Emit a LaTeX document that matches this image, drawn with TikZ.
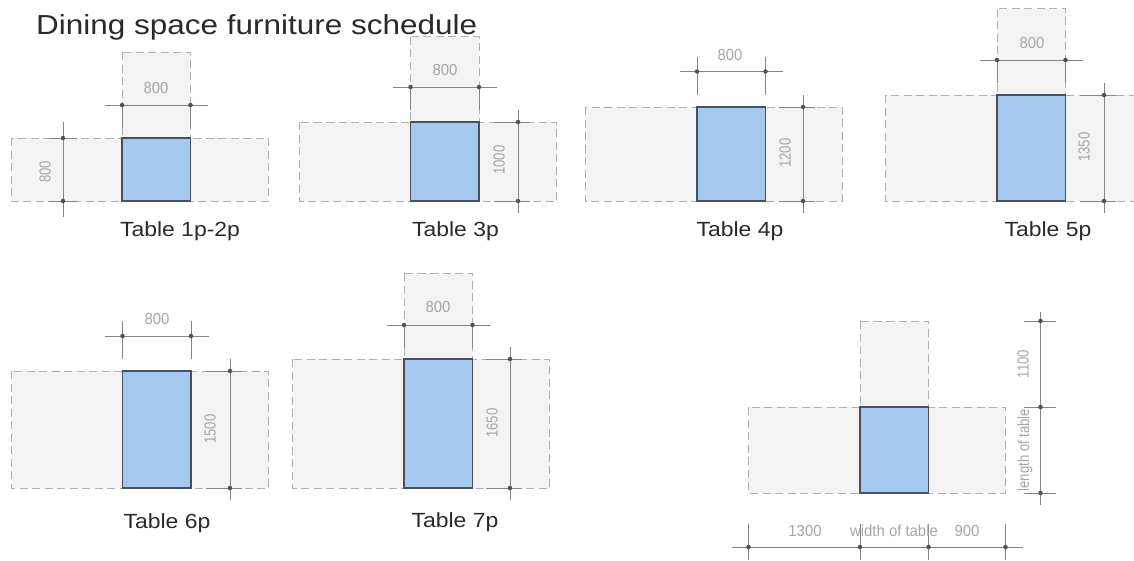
\documentclass[tikz,border=0pt]{standalone}
\usepackage{fontspec}
\setmainfont{Liberation Sans}
\tikzset{
  x=1pt,y=-1pt,
  zone/.style={fill=zonegrey,draw=dashgrey,line width=0.9pt,dash pattern=on 8pt off 4.5pt},
  tabletop/.style={fill=tableblue,draw=tableedge,line width=1.2pt},
  dimline/.style={draw=dimgrey,line width=0.95pt},
  dimdot/.style={circle,fill=dimdark,inner sep=0pt,minimum size=4.5pt},
  dimtext/.style={text=textgrey,font=\fontsize{16}{16}\selectfont,inner sep=0pt,xscale=0.93},
  dimtextv/.style={text=textgrey,font=\fontsize{16}{16}\selectfont,inner sep=0pt,rotate=90,xscale=0.82},
  caption/.style={text=captionblack,font=\fontsize{20.5}{20.5}\selectfont,inner sep=0pt,anchor=base,xscale=1.12},
}
\definecolor{zonegrey}{HTML}{F3F3F3}
\definecolor{dashgrey}{HTML}{B0B0B0}
\definecolor{tableblue}{HTML}{A4C8EE}
\definecolor{tableedge}{HTML}{46515F}
\definecolor{dimgrey}{HTML}{858585}
\definecolor{dimdark}{HTML}{505050}
\definecolor{textgrey}{HTML}{A6A6A6}
\definecolor{captionblack}{HTML}{2A2A2A}
% #1 zone left, #2 table left, #3 back top (empty = no chair), #4 table top, #5 bottom
\newcommand{\zonepair}[5]{%
  \def\tmpchair{#3}%
  \ifx\tmpchair\empty\else
    \draw[zone] (#2,#3) rectangle (#2+68.5,#4);
  \fi
  \draw[zone] (#1,#4) rectangle (#1+257,#5);
  \draw[tabletop] (#2,#4) rectangle (#2+68.5,#5);
}
% horizontal width dimension: #1 table left, #2 y, #3 extent of the ticks above
\newcommand{\hdim}[3]{%
  \draw[dimline] (#1-17.5,#2) -- (#1+86,#2);
  \draw[dimline] (#1,#2-#3) -- (#1,#2+23);
  \draw[dimline] (#1+68.5,#2-#3) -- (#1+68.5,#2+23);
  \node[dimdot] at (#1,#2) {};
  \node[dimdot] at (#1+68.5,#2) {};
}
% vertical length dimension: #1 x, #2 top y, #3 bottom y, #4 overshoot, #5 tick left, #6 tick right
\newcommand{\vdim}[6]{%
  \draw[dimline] (#1,#2-#4) -- (#1,#3+#4);
  \draw[dimline] (#1-#5,#2) -- (#1+#6,#2);
  \draw[dimline] (#1-#5,#3) -- (#1+#6,#3);
  \node[dimdot] at (#1,#2) {};
  \node[dimdot] at (#1,#3) {};
}
\begin{document}
\begin{tikzpicture}
\useasboundingbox[fill=white] (0,0) rectangle (1134,560);

\zonepair{11}{122}{52}{138}{201}
\hdim{122}{105}{0}
\vdim{63}{138}{201}{16}{14}{14}
\node[dimtext] at (156,88) {800};
\node[dimtextv] at (45,172) {800};
\node[caption] at (180,236) {Table 1p-2p};

\zonepair{299.5}{410.5}{36.5}{122}{201}
\hdim{410.5}{87}{0}
\vdim{518}{122}{201}{12}{24}{12}
\node[dimtext] at (445,70) {800};
\node[dimtextv] at (499,160) {1000};
\node[caption] at (455.5,236) {Table 3p};

\zonepair{585}{697}{}{107}{201}
\hdim{697}{71.5}{15}
\vdim{803}{107}{201}{12}{24}{12}
\node[dimtext] at (730,55) {800};
\node[dimtextv] at (785,153) {1200};
\node[caption] at (740,236) {Table 4p};

\zonepair{885.5}{997}{8.5}{95}{201}
\hdim{997}{60}{0}
\vdim{1104}{95}{201}{12}{24}{12}
\node[dimtext] at (1032,43) {800};
\node[dimtextv] at (1084,147) {1350};
\node[caption] at (1048,236) {Table 5p};

\zonepair{11.5}{122.5}{}{371}{488}
\hdim{122.5}{336}{15}
\vdim{230}{371}{488}{12}{24}{12}
\node[dimtext] at (157,319) {800};
\node[dimtextv] at (210,429) {1500};
\node[caption] at (167,528) {Table 6p};

\zonepair{292.7}{404}{273}{359}{488}
\hdim{404}{325}{0}
\vdim{510}{359}{488}{12}{24}{12}
\node[dimtext] at (438,307) {800};
\node[dimtextv] at (492,423) {1650};
\node[caption] at (455,527.5) {Table 7p};

\zonepair{748.5}{860}{321}{407}{493}
\draw[dimline] (1040.5,312) -- (1040.5,505);
\foreach \yy in {321,407,493} {
  \draw[dimline] (1024,\yy) -- (1056,\yy);
  \node[dimdot] at (1040.5,\yy) {};
}
\node[dimtextv] at (1023,364) {1100};
\node[dimtextv] at (1025,450) {length of table};

\draw[dimline] (732,547) -- (1023,547);
\foreach \xx in {748.5,860,928.5,1005.5} {
  \draw[dimline] (\xx,523.5) -- (\xx,560);
  \node[dimdot] at (\xx,547) {};
}
\node[dimtext] at (805,531) {1300};
\node[dimtext] at (894,531) {width of table};
\node[dimtext] at (967,531) {900};

\node[anchor=base west,inner sep=0pt,text=captionblack,xscale=1.145,font=\fontsize{27.5}{27.5}\selectfont] at (36,34.5) {Dining space furniture schedule};
\end{tikzpicture}
\end{document}
